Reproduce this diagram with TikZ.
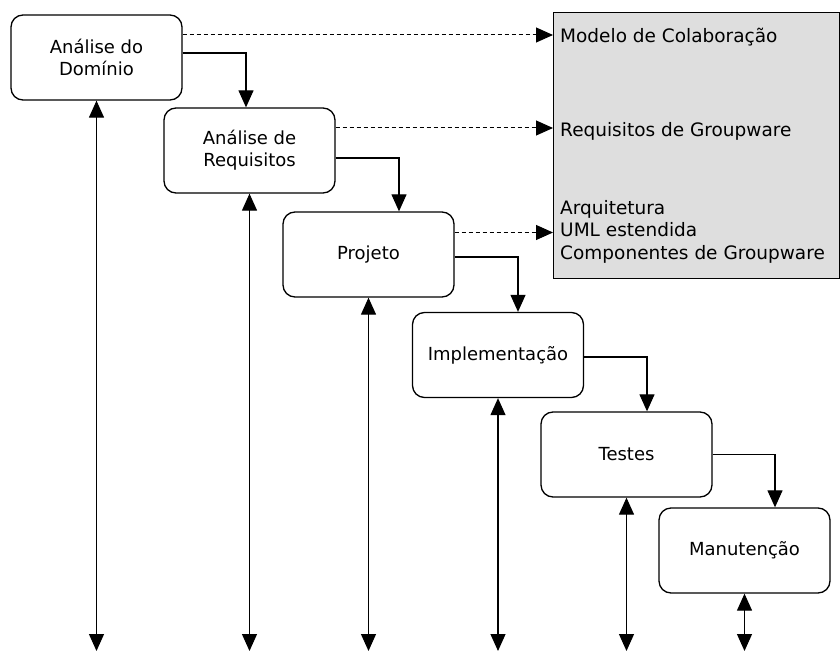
\documentclass[tikz,border=0pt]{standalone}
\usepackage{fontspec}
\setmainfont{DejaVu Sans}
\usetikzlibrary{arrows.meta}
\begin{document}
\begin{tikzpicture}[x=1pt,y=-1pt,
  phase/.style={draw, line width=1.3pt, rounded corners=12pt, minimum width=171pt,
    minimum height=85pt, align=center, inner sep=0pt,
    font=\fontsize{18}{22}\selectfont},
  tip/.style={-{Triangle[length=17pt,width=15pt]}},
  dtip/.style={{Triangle[length=17pt,width=15pt]}-{Triangle[length=17pt,width=15pt]}},
  flow/.style={line width=1.2pt, tip},
  vert/.style={line width=1.2pt, dtip},
  dotarrow/.style={line width=1pt, dash pattern=on 4pt off 3pt, tip},
  outtxt/.style={anchor=base west, inner sep=0pt, font=\fontsize{18.5}{22}\selectfont}]
\useasboundingbox (0,0) rectangle (840,652);

% output box
\node[draw, line width=1.2pt, fill={rgb,255:red,222;green,222;blue,222}, anchor=north west,
  minimum width=286pt, minimum height=266pt, inner sep=0pt] (g) at (553,12) {};
\node[outtxt] (t1) at (560,43) {Modelo de Colaboração};
\node[outtxt] (t2) at (560,137) {Requisitos de Groupware};
\node[outtxt] (t3) at (560,215) {Arquitetura};
\node[outtxt] (t4) at (560,237) {UML estendida};
\node[outtxt] (t5) at (560,259) {Componentes de Groupware};

% phases
\node[phase] (b1) at (96.5,57.5) {Análise do\\Domínio};
\node[phase] (b2) at (249.5,150.5) {Análise de\\Requisitos};
\node[phase] (b3) at (368.5,254.5) {Projeto};
\node[phase] (b4) at (498,355) {Implementação};
\node[phase] (b5) at (626.5,454.5) {Testes};
\node[phase] (b6) at (744.5,550.5) {Manutenção};

% flow connectors
\draw[flow] ([yshift=4.5pt]b1.east) -| ([xshift=-3.5pt]b2.north);
\draw[flow] ([yshift=-7.5pt]b2.east) -| ([xshift=30.5pt]b3.north);
\draw[flow] ([yshift=-2.5pt]b3.east) -| ([xshift=20pt]b4.north);
\draw[flow] ([yshift=-2pt]b4.east) -| ([xshift=20.5pt]b5.north);
\draw[flow] (b5.east) -| ([xshift=30.5pt]b6.north);

% dotted outputs
\coordinate (d1) at ([yshift=22.5pt]b1.east);
\coordinate (d2) at ([yshift=22.5pt]b2.east);
\coordinate (d3) at ([yshift=22pt]b3.east);
\draw[dotarrow] (d1) -- (d1 -| g.west);
\draw[dotarrow] (d2) -- (d2 -| g.west);
\draw[dotarrow] (d3) -- (d3 -| g.west);

% vertical double arrows
\coordinate (e1) at (96.5,651);
\coordinate (e2) at (249.5,651);
\coordinate (e3) at (368.5,651);
\coordinate (e4) at (498,651);
\coordinate (e5) at (626.5,651);
\coordinate (e6) at (744.5,651);
\draw[vert] (e1) -- (b1.south);
\draw[vert] (e2) -- (b2.south);
\draw[vert] (e3) -- (b3.south);
\draw[vert] (e4) -- (b4.south);
\draw[vert] (e5) -- (b5.south);
\draw[vert] (e6) -- (b6.south);
\end{tikzpicture}
\end{document}
